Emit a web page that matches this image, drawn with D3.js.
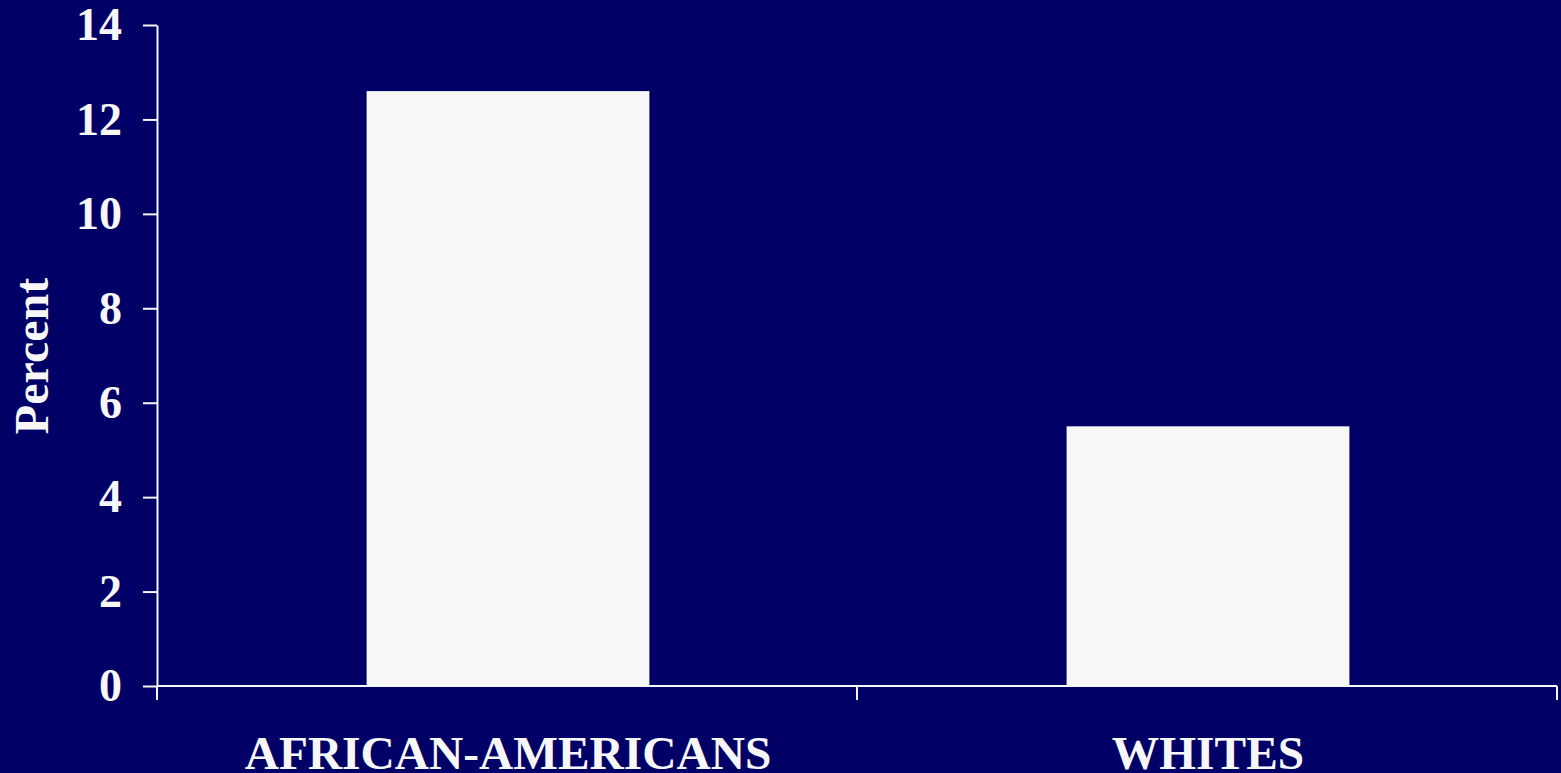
<!DOCTYPE html>
<html>
<head>
<meta charset="utf-8">
<script src="https://cdn.jsdelivr.net/npm/d3@7"></script>
<style>
  html, body { margin: 0; padding: 0; background: #000066; overflow: hidden; }
  svg { display: block; }
  text { font-family: "Liberation Serif", "Times New Roman", serif; font-weight: bold; fill: #f7f7f7; }
</style>
</head>
<body>
<svg id="chart" width="1561" height="773"></svg>
<script>
// Share of each group, in percent
const categories = ["AFRICAN-AMERICANS", "WHITES"];
const percentValues = [12.6, 5.5];
const yTicks = [0, 2, 4, 6, 8, 10, 12, 14];
const yLabel = "Percent";

const W = 1561, H = 773;
const margin = { top: 25, right: 4, bottom: 87, left: 157 };
const innerW = W - margin.left - margin.right;
const innerH = H - margin.top - margin.bottom;

const svg = d3.select("#chart");
svg.append("rect").attr("width", W).attr("height", H).attr("fill", "#000066");

const g = svg.append("g").attr("transform", `translate(${margin.left},${margin.top})`);

const x = d3.scaleBand().domain(categories).range([0, innerW]).paddingInner(0).paddingOuter(0);
const y = d3.scaleLinear().domain([0, 14]).range([innerH, 0]);

const barFrac = 0.404;

// Bars
g.selectAll("rect.bar")
  .data(categories.map((c, i) => ({ c, v: percentValues[i] })))
  .join("rect")
  .attr("class", "bar")
  .attr("x", d => x(d.c) + x.bandwidth() * (1 - barFrac) / 2 + 1)
  .attr("width", x.bandwidth() * barFrac)
  .attr("y", d => y(d.v))
  .attr("height", d => innerH - y(d.v))
  .attr("fill", "#f7f7f7");

// Y axis
const yAxis = g.append("g")
  .call(d3.axisLeft(y).tickValues(yTicks).tickSize(14).tickSizeOuter(0).tickPadding(21));
yAxis.select(".domain").attr("stroke", "#f7f7f7").attr("stroke-width", 2);
yAxis.selectAll(".tick line").attr("stroke", "#f7f7f7").attr("stroke-width", 2);
yAxis.selectAll(".tick text").attr("font-size", 46).attr("fill", "#f7f7f7")
  .attr("font-family", "Liberation Serif").attr("font-weight", "bold");

// X axis: ticks at band edges
const xAxisG = g.append("g").attr("transform", `translate(0,${innerH})`);
xAxisG.append("line")
  .attr("x1", 0).attr("x2", innerW).attr("y1", 0).attr("y2", 0)
  .attr("stroke", "#f7f7f7").attr("stroke-width", 2);
const edges = categories.map(c => x(c)).concat([innerW]);
xAxisG.selectAll("line.edge")
  .data(edges)
  .join("line")
  .attr("class", "edge")
  .attr("x1", d => d).attr("x2", d => d)
  .attr("y1", 0).attr("y2", 14)
  .attr("stroke", "#f7f7f7").attr("stroke-width", 2);

xAxisG.selectAll("text.cat")
  .data(categories)
  .join("text")
  .attr("class", "cat")
  .attr("x", d => x(d) + x.bandwidth() / 2 + 1)
  .attr("y", 83)
  .attr("text-anchor", "middle")
  .attr("font-size", 47.4)
  .text(d => d);

// Y axis title
svg.append("text")
  .attr("transform", `translate(48,${356}) rotate(-90)`)
  .attr("text-anchor", "middle")
  .attr("font-size", 48)
  .text(yLabel);
</script>
</body>
</html>
